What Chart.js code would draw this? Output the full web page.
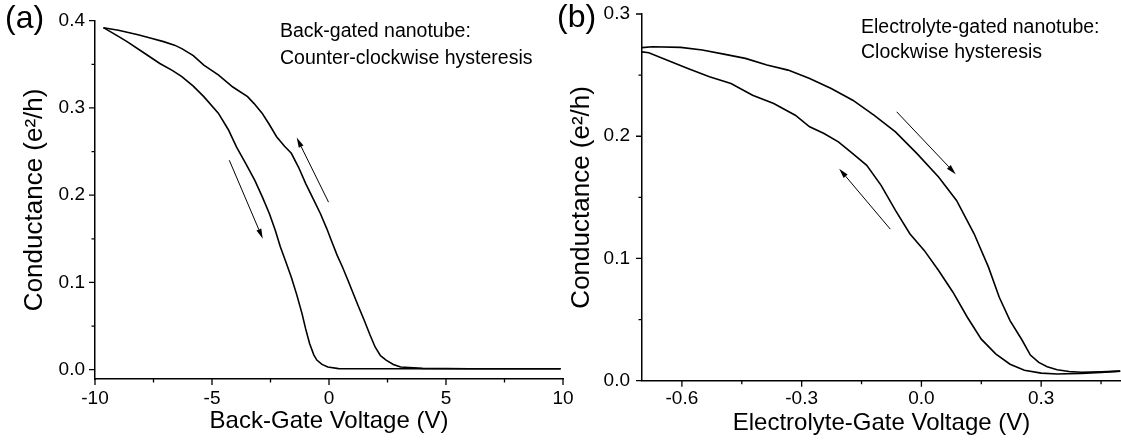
<!DOCTYPE html>
<html>
<head>
<meta charset="utf-8">
<title>Nanotube hysteresis</title>
<script src="https://cdn.jsdelivr.net/npm/chart.js@4/dist/chart.umd.min.js"></script>
<style>
  body { margin: 0; background: #fff; width: 1121px; height: 444px; position: relative; overflow: hidden;
         font-family: Arial, "Liberation Sans", sans-serif; color: #000; }
  .panel { position: absolute; top: 0; }
  .lbl { position: absolute; font-size: 32px; line-height: 32px; }
  .note { position: absolute; font-size: 19.5px; white-space: nowrap; }
</style>
</head>
<body>
<div class="panel" style="left:0"><canvas id="chartA" width="573" height="444"></canvas></div>
<div class="panel" style="left:560px"><canvas id="chartB" width="561" height="444"></canvas></div>
<div class="lbl" style="left:5px;top:1px">(a)</div>
<div class="lbl" style="left:557px;top:0px">(b)</div>
<div class="note" style="left:280px;top:17px;line-height:27px">Back-gated nanotube:<br>Counter-clockwise hysteresis</div>
<div class="note" style="left:861px;top:14px;line-height:24.5px">Electrolyte-gated nanotube:<br>Clockwise hysteresis</div>
<script>
// (a) back-gated nanotube, conductance in e^2/h
// forward sweep (-10 -> +10 V), left branch
var backFwdV = [-9.64, -9.0, -8.63, -7.9, -7.23, -6.7, -6.29, -5.8, -5.35, -4.73, -4.3, -3.95, -3.55, -3.17,
                -2.85, -2.55, -2.3, -2.08, -1.85, -1.61, -1.38, -1.15, -1.0, -0.83, -0.65, -0.52, -0.3, -0.05,
                0.41, 1.5, 3, 5, 7, 9.9];
var backFwdG = [0.392, 0.382, 0.376, 0.363, 0.351, 0.343, 0.336, 0.325, 0.313, 0.294, 0.275, 0.255, 0.236, 0.217,
                0.198, 0.179, 0.160, 0.141, 0.124, 0.106, 0.086, 0.064, 0.047, 0.030, 0.017, 0.011, 0.006, 0.003,
                0.0012, 0.001, 0.001, 0.001, 0.001, 0.001];
// reverse sweep (+10 -> -10 V), right branch
var backRevV = [-9.64, -9.0, -8.16, -7.6, -7.07, -6.6, -6.29, -5.8, -5.35, -4.73, -4.11, -3.48, -3.2, -2.86,
                -2.55, -2.24, -1.9, -1.61, -1.3, -0.99, -0.68, -0.37, -0.1, 0.1, 0.35, 0.57, 0.8, 1.04, 1.25,
                1.5, 1.75, 1.97, 2.2, 2.44, 2.75, 3.06, 4, 6, 8, 9.9];
var backRevG = [0.392, 0.389, 0.384, 0.380, 0.376, 0.372, 0.368, 0.360, 0.349, 0.338, 0.324, 0.313, 0.305, 0.294,
                0.281, 0.267, 0.256, 0.248, 0.232, 0.213, 0.196, 0.179, 0.162, 0.148, 0.131, 0.118, 0.103, 0.087, 0.073,
                0.057, 0.040, 0.026, 0.016, 0.011, 0.006, 0.003, 0.0015, 0.001, 0.001, 0.001];

// (b) electrolyte-gated nanotube
// forward sweep (-0.7 -> +0.5 V), upper branch
var elecFwdV = [-0.703, -0.674, -0.603, -0.549, -0.495, -0.441, -0.387, -0.334, -0.280, -0.226, -0.172, -0.119,
                -0.065, -0.011, 0.043, 0.088, 0.132, 0.168, 0.195, 0.222, 0.252, 0.273, 0.294, 0.315, 0.340,
                0.370, 0.400, 0.450, 0.498];
var elecFwdG = [0.2724, 0.2732, 0.2727, 0.2705, 0.2672, 0.2637, 0.2582, 0.2541, 0.2473, 0.2391, 0.2295, 0.2172,
                0.2036, 0.1858, 0.1667, 0.1475, 0.1202, 0.0929, 0.0683, 0.0492, 0.0333, 0.0210, 0.0150, 0.0115, 0.0090,
                0.0075, 0.0069, 0.0072, 0.0078];
// reverse sweep (+0.5 -> -0.7 V), lower branch
var elecRevV = [-0.703, -0.683, -0.638, -0.585, -0.531, -0.477, -0.423, -0.370, -0.316, -0.280, -0.244, -0.208,
                -0.172, -0.137, -0.101, -0.065, -0.029, 0.007, 0.043, 0.079, 0.115, 0.150, 0.186, 0.222, 0.258,
                0.300, 0.340, 0.400, 0.450, 0.498];
var elecRevG = [0.2691, 0.2683, 0.2623, 0.2555, 0.2486, 0.2432, 0.2336, 0.2268, 0.2172, 0.2077, 0.2022, 0.1954,
                0.1858, 0.1762, 0.1598, 0.1393, 0.1202, 0.1066, 0.0902, 0.0724, 0.0519, 0.0340, 0.0219, 0.0135, 0.0085,
                0.0062, 0.0055, 0.0060, 0.0068, 0.0078];

// ticks
var xMajorA = [-10, -5, 0, 5, 10];
var xLabelsA = ['-10', '-5', '0', '5', '10'];
var xMinorA = [-7.5, -2.5, 2.5, 7.5];
var yMajorA = [0, 0.1, 0.2, 0.3, 0.4];
var yLabelsA = ['0.0', '0.1', '0.2', '0.3', '0.4'];
var yMinorA = [0.05, 0.15, 0.25, 0.35];

var xMajorB = [-0.6, -0.3, 0, 0.3];
var xLabelsB = ['-0.6', '-0.3', '0.0', '0.3'];
var xMinorB = [-0.45, -0.15, 0.15, 0.45];
var yMajorB = [0, 0.1, 0.2, 0.3];
var yLabelsB = ['0.0', '0.1', '0.2', '0.3'];
var yMinorB = [0.05, 0.15, 0.25];

// sweep direction arrows, [x, y] in data units, head at "to"
var arrowsA = [{from: [-4.26, 0.240], to: [-2.83, 0.150]}, {from: [-0.02, 0.192], to: [-1.38, 0.266]}];
var arrowsB = [{from: [-0.062, 0.220], to: [0.086, 0.169]}, {from: [-0.078, 0.124], to: [-0.206, 0.1735]}];

var FONT = 'Arial, "Liberation Sans", sans-serif';

var axisMarks = {
    id: 'axisMarks',
    afterDraw: function(chart, args, o) {
        var ctx = chart.ctx, xs = chart.scales.x, ys = chart.scales.y;
        ctx.save();
        ctx.strokeStyle = '#000';
        ctx.fillStyle = '#000';
        ctx.lineWidth = 1.3;
        ctx.beginPath();
        o.xMajor.forEach(function(v) { var p = xs.getPixelForValue(v); ctx.moveTo(p, xs.top); ctx.lineTo(p, xs.top + 6); });
        o.xMinor.forEach(function(v) { var p = xs.getPixelForValue(v); ctx.moveTo(p, xs.top); ctx.lineTo(p, xs.top + 3.5); });
        o.yMajor.forEach(function(v) { var p = ys.getPixelForValue(v); ctx.moveTo(ys.right, p); ctx.lineTo(ys.right - 6, p); });
        o.yMinor.forEach(function(v) { var p = ys.getPixelForValue(v); ctx.moveTo(ys.right, p); ctx.lineTo(ys.right - 3.5, p); });
        ctx.stroke();

        ctx.lineWidth = 1;
        o.arrows.forEach(function(a) {
            var x1 = xs.getPixelForValue(a.from[0]), y1 = ys.getPixelForValue(a.from[1]);
            var x2 = xs.getPixelForValue(a.to[0]), y2 = ys.getPixelForValue(a.to[1]);
            var ang = Math.atan2(y2 - y1, x2 - x1);
            var len = 10, half = 2.6;
            var bx = x2 - len * Math.cos(ang), by = y2 - len * Math.sin(ang);
            ctx.beginPath();
            ctx.moveTo(x1, y1);
            ctx.lineTo(bx, by);
            ctx.stroke();
            ctx.beginPath();
            ctx.moveTo(x2, y2);
            ctx.lineTo(bx + half * Math.sin(ang), by - half * Math.cos(ang));
            ctx.lineTo(bx - half * Math.sin(ang), by + half * Math.cos(ang));
            ctx.closePath();
            ctx.fill();
        });
        ctx.restore();
    }
};

function pts(v, g) {
    return v.map(function(x, i) { return {x: x, y: g[i]}; });
}

function labelFor(majors, labels) {
    return function(value) {
        for (var i = 0; i < majors.length; i++) {
            if (Math.abs(majors[i] - value) < 1e-9) return labels[i];
        }
        return '';
    };
}

function tickList(major, minor) {
    return major.concat(minor).sort(function(a, b) { return a - b; }).map(function(v) { return {value: v}; });
}

function makeChart(id, c) {
    var line = {showLine: true, borderColor: '#000', borderWidth: 1.6, pointRadius: 0, fill: false, tension: 0};
    return new Chart(document.getElementById(id), {
        type: 'scatter',
        data: {
            datasets: c.series.map(function(s) { return Object.assign({data: s}, line); })
        },
        options: {
            responsive: false,
            animation: false,
            events: [],
            layout: {padding: c.padding},
            plugins: {
                legend: {display: false},
                tooltip: {enabled: false},
                axisMarks: c.marks
            },
            scales: {
                x: {
                    type: 'linear', min: c.xMin, max: c.xMax,
                    afterBuildTicks: function(s) { s.ticks = tickList(c.marks.xMajor, c.marks.xMinor); },
                    // fixed box, no extra room for end labels
                    afterFit: function(s) { s.height = c.xHeight; s.paddingLeft = 0; s.paddingRight = 0; },
                    grid: {drawOnChartArea: false, drawTicks: false},
                    border: {color: '#000', width: 1.5},
                    ticks: {color: '#000', padding: c.xTickPad, maxRotation: 0, autoSkip: false,
                            font: {family: FONT, size: 19},
                            callback: labelFor(c.marks.xMajor, c.xLabels)},
                    title: {display: true, text: c.xTitle, color: '#000', padding: {top: 0, bottom: c.xTitlePad},
                            font: {family: FONT, size: 24}}
                },
                y: {
                    type: 'linear', min: c.yMin, max: c.yMax,
                    afterBuildTicks: function(s) { s.ticks = tickList(c.marks.yMajor, c.marks.yMinor); },
                    afterFit: function(s) { s.width = c.yWidth; s.paddingTop = 0; s.paddingBottom = 0; },
                    grid: {drawOnChartArea: false, drawTicks: false},
                    border: {color: '#000', width: 1.5},
                    ticks: {color: '#000', padding: c.yTickPad, autoSkip: false,
                            font: {family: FONT, size: 19},
                            callback: labelFor(c.marks.yMajor, c.yLabels)},
                    title: {display: true, text: 'Conductance (e\u00B2/h)', color: '#000', padding: {top: c.yTitlePad, bottom: 0},
                            font: {family: FONT, size: 26}}
                }
            }
        },
        plugins: [axisMarks]
    });
}

makeChart('chartA', {
    series: [pts(backFwdV, backFwdG), pts(backRevV, backRevG)],
    padding: {top: 20.7, right: 10, bottom: 0, left: 0},
    xMin: -10, xMax: 10, yMin: -0.0107, yMax: 0.4,
    xHeight: 65, yWidth: 95,
    xTickPad: 8.1, yTickPad: 10, xTitlePad: 7.9, yTitlePad: 18.9,
    xTitle: 'Back-Gate Voltage (V)',
    xLabels: xLabelsA, yLabels: yLabelsA,
    marks: {xMajor: xMajorA, xMinor: xMinorA, yMajor: yMajorA, yMinor: yMinorA, arrows: arrowsA}
});

makeChart('chartB', {
    series: [pts(elecFwdV, elecFwdG), pts(elecRevV, elecRevG)],
    padding: {top: 14, right: 0, bottom: 0, left: 0},
    xMin: -0.7, xMax: 0.5, yMin: 0, yMax: 0.3,
    xHeight: 63.3, yWidth: 82,
    xTickPad: 6.4, yTickPad: 12, xTitlePad: 6.2, yTitlePad: 5.8,
    xTitle: 'Electrolyte-Gate Voltage (V)',
    xLabels: xLabelsB, yLabels: yLabelsB,
    marks: {xMajor: xMajorB, xMinor: xMinorB, yMajor: yMajorB, yMinor: yMinorB, arrows: arrowsB}
});
</script>
</body>
</html>
